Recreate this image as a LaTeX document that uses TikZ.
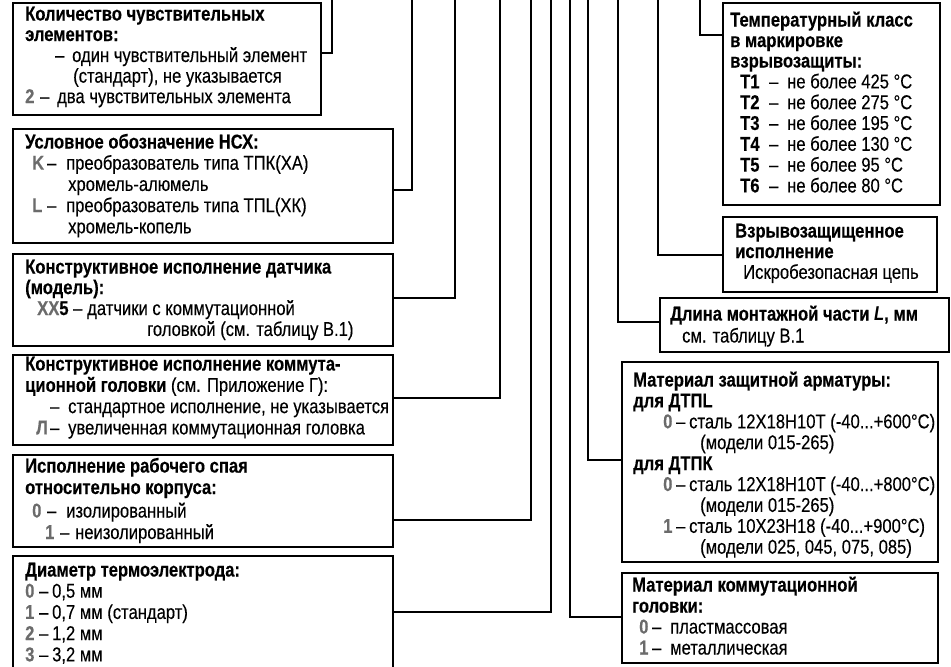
\documentclass[tikz,border=0pt]{standalone}
\usepackage{fontspec}
\setmainfont[FakeStretch=0.83, UprightFeatures={FakeBold=0.25}, BoldFeatures={FakeBold=0.3}]{Liberation Sans}
\usetikzlibrary{fit}
\definecolor{codegray}{gray}{0.42}
\newcommand{\cd}[1]{\textbf{\textcolor{codegray}{#1}}}
\newcommand{\iline}[5]{\hspace*{#1pt}\makebox[#2pt][l]{#3}\makebox[#4pt][l]{–}#5}
\newcommand{\boxtext}[1]{\begin{tabular}[t]{@{}l@{}}#1\end{tabular}}
\begin{document}
\begin{tikzpicture}[x=1pt,y=-1pt,
  box/.style={draw, line width=2.3pt, inner sep=0pt, outer sep=0pt},
  txt/.style={inner sep=0pt, anchor=base west, font=\fontsize{20}{#1}\selectfont},
  txt/.default=21,
  conn/.style={draw, line width=2.3pt}]
\useasboundingbox (0,0) rectangle (951,667);
% boxes
\node[box, fit={(13,3)(321,115)}] (b1) {};
\node[box, fit={(13,129)(393,243)}] (b2) {};
\node[box, fit={(13,254)(393,346)}] (b3) {};
\node[box, fit={(13,355)(393,445)}] (b4) {};
\node[box, fit={(13,455)(393,547)}] (b5) {};
\node[box, fit={(13,556)(393,690)}] (b6) {};
\node[box, fit={(723,3)(940,205)}] (r1) {};
\node[box, fit={(723,217)(937,292)}] (r2) {};
\node[box, fit={(660,298)(949,352)}] (r3) {};
\node[box, fit={(622,362)(938,562)}] (r4) {};
\node[box, fit={(622,573)(938,663)}] (r5) {};
% top ends of connectors
\coordinate (v1) at (332,-3);
\coordinate (v2) at (412,-3);
\coordinate (v3) at (455,-3);
\coordinate (v4) at (500,-3);
\coordinate (v5) at (531,-3);
\coordinate (v6) at (551,-3);
\coordinate (w5) at (570,-3);
\coordinate (w4) at (588,-3);
\coordinate (w3) at (618,-3);
\coordinate (w2) at (658,-3);
\coordinate (w1) at (700,-3);
% connectors
\draw[conn] (b1.east |- 0,53) -| (v1);
\draw[conn] (b2.east |- 0,190) -| (v2);
\draw[conn] (b3.east |- 0,298) -| (v3);
\draw[conn] (b4.east |- 0,398) -| (v4);
\draw[conn] (b5.east |- 0,520) -| (v5);
\draw[conn] (b6.east |- 0,612) -| (v6);
\draw[conn] (r5.west |- 0,617) -| (w5);
\draw[conn] (r4.west |- 0,460) -| (w4);
\draw[conn] (r3.west |- 0,322) -| (w3);
\draw[conn] (r2.west |- 0,255) -| (w2);
\draw[conn] (r1.west |- 0,35) -| (w1);
% texts
\node[txt=20.5] (t1) at (25,20.5) {\boxtext{%
\textbf{Количество чувствительных}\\
\textbf{элементов:}\\
\hspace*{30pt}\makebox[17pt][l]{–}один чувствительный элемент\\
\hspace*{48pt}(стандарт), не указывается\\
\iline{0}{15}{\cd{2}}{17}{два чувствительных элемента}}};
\node[txt=21.2] (t2) at (25,148.5) {\boxtext{%
\textbf{Условное обозначение НСХ:}\\
\iline{7}{15}{\cd{K}}{19}{преобразователь типа ТПК(ХА)}\\
\hspace*{43pt}хромель-алюмель\\
\iline{7}{15}{\cd{L}}{19}{преобразователь типа ТПL(ХК)}\\
\hspace*{43pt}хромель-копель}};
\node[txt=20.3] (t3) at (25,273.5) {\boxtext{%
\textbf{Конструктивное исполнение датчика}\\
\textbf{(модель):}\\
\iline{12}{36}{\cd{XX}\textbf{5}}{14}{датчики с коммутационной}\\
\hspace*{122pt}головкой (см. таблицу В.1)}};
\node[txt=21.3] (t4) at (25,370.5) {\boxtext{%
\textbf{Конструктивное исполнение коммута-}\\
\textbf{ционной головки} (см. Приложение Г):\\
\hspace*{25pt}\makebox[18pt][l]{–}стандартное исполнение, не указывается\\
\iline{11}{14}{\cd{Л}}{18}{увеличенная коммутационная головка}}};
\node[txt=21.5] (t5) at (25,472.5) {\boxtext{%
\textbf{Исполнение рабочего спая}\\
\textbf{относительно корпуса:}\\[2pt]
\iline{7}{15}{\cd{0}}{19}{изолированный}\\
\iline{20}{15}{\cd{1}}{15}{неизолированный}}};
\node[txt=21.2] (t6) at (25,576.5) {\boxtext{%
\textbf{Диаметр термоэлектрода:}\\
\iline{0}{14}{\cd{0}}{13}{0,5 мм}\\
\iline{0}{14}{\cd{1}}{13}{0,7 мм (стандарт)}\\
\iline{0}{14}{\cd{2}}{13}{1,2 мм}\\
\iline{0}{14}{\cd{3}}{13}{3,2 мм}}};
\node[txt=20.5] (s1) at (730,26.5) {\boxtext{%
\textbf{Температурный класс}\\
\textbf{в маркировке}\\
\textbf{взрывозащиты:}\\
\iline{10}{29}{\textbf{T1}}{18}{не более 425 °C}\\
\iline{10}{29}{\textbf{T2}}{18}{не более 275 °C}\\
\iline{10}{29}{\textbf{T3}}{18}{не более 195 °C}\\
\iline{10}{29}{\textbf{T4}}{18}{не более 130 °C}\\
\iline{10}{29}{\textbf{T5}}{18}{не более 95 °C}\\
\iline{10}{29}{\textbf{T6}}{18}{не более 80 °C}}};
\node[txt=20.5] (s2) at (735,237.5) {\boxtext{%
\textbf{Взрывозащищенное}\\
\textbf{исполнение}\\
\hspace*{8pt}Искробезопасная цепь}};
\node[txt=22] (s3) at (670,320.5) {\boxtext{%
\textbf{Длина монтажной части \textit{L}, мм}\\
\hspace*{12pt}см. таблицу В.1}};
\node[txt=20.9] (s4) at (633,386.5) {\boxtext{%
\textbf{Материал защитной арматуры:}\\
\textbf{для ДТПL}\\
\iline{30}{13}{\cd{0}}{13}{сталь 12Х18Н10Т (-40...+600°C)}\\
\hspace*{67pt}(модели 015-265)\\
\textbf{для ДТПК}\\
\iline{30}{13}{\cd{0}}{13}{сталь 12Х18Н10Т (-40...+800°C)}\\
\hspace*{67pt}(модели 015-265)\\
\iline{30}{13}{\cd{1}}{13}{сталь 10Х23Н18 (-40...+900°C)}\\
\hspace*{67pt}(модели 025, 045, 075, 085)}};
\node[txt=21] (s5) at (632,591.5) {\boxtext{%
\textbf{Материал коммутационной}\\
\textbf{головки:}\\
\iline{7}{13}{\cd{0}}{18}{пластмассовая}\\
\iline{7}{13}{\cd{1}}{18}{металлическая}}};
\end{tikzpicture}
\end{document}
